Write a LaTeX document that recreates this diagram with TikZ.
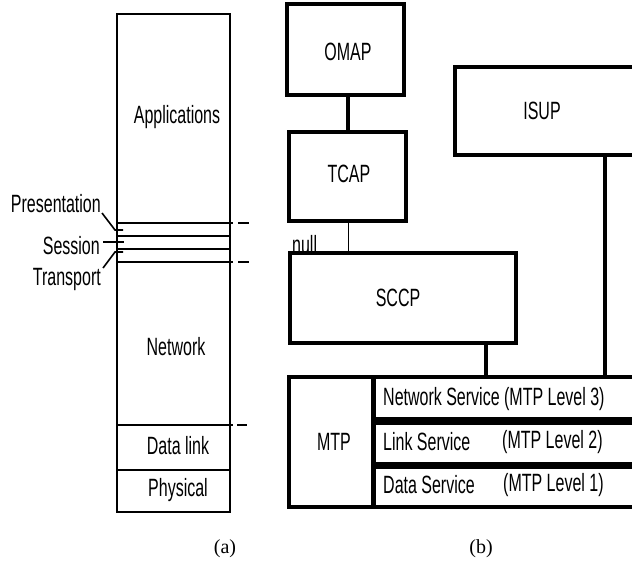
\documentclass[tikz,border=0pt]{standalone}
\usepackage{fontspec}
\setmainfont{Liberation Serif}
\newfontfamily\narsans[FakeStretch=0.64]{Liberation Sans}
\begin{document}
\begin{tikzpicture}[x=1pt,y=-1pt,
  lbl/.style={font=\narsans\fontsize{25}{27}\selectfont, inner sep=0pt},
  thinbox/.style={draw, line width=1.6pt},
  layerline/.style={line width=2.2pt},
  thickbox/.style={draw, line width=4pt},
  thickline/.style={line width=4.5pt},
  captxt/.style={font=\fontsize{20}{22}\selectfont, inner sep=0pt}]
\useasboundingbox (0,0) rectangle (632,570);
\begin{scope}
\clip (0,0) rectangle (632,570);
% ---------- (a) ----------
\draw[thinbox] (117,14) rectangle (230,512);
\draw[layerline] (117,223) -- (233,223);
\draw[layerline] (238,223) -- (249,223);
\draw[layerline] (117,236) -- (230,236);
\draw[layerline] (117,249) -- (230,249);
\draw[layerline] (117,262) -- (233,262);
\draw[layerline] (238,262) -- (249,262);
\draw[layerline] (117,425) -- (233,425);
\draw[layerline] (237,425) -- (247,425);
\draw[layerline] (117,470) -- (230,470);
\node[lbl] (app) at (177,117) {Applications};
\node[lbl] (net) at (176,347) {Network};
\node[lbl] (dl) at (178,446) {Data link};
\node[lbl] (ph) at (178,490) {Physical};
\node[lbl, anchor=east] (pres) at (101,204) {Presentation};
\node[lbl, anchor=east] (sess) at (100,246) {Session};
\node[lbl, anchor=east] (trans) at (101,279) {Transport};
\coordinate (tp) at (123,230);
\coordinate (ts) at (124,242);
\coordinate (tt) at (123,252);
\draw[line width=1.6pt] (102,213) -- (115,230) -- (tp);
\draw[line width=1.6pt] (103,242) -- (ts);
\draw[line width=1.6pt] (103,268) -- (115,252) -- (tt);
% ---------- (b) ----------
\node[thickbox, minimum width=117pt, minimum height=91pt, inner sep=0pt] (omap) at (345.5,49.5) {};
\node[lbl] at (348,52) {OMAP};
\node[thickbox, minimum width=117pt, minimum height=89pt, inner sep=0pt] (tcap) at (347.5,176.5) {};
\node[lbl] at (349,174) {TCAP};
\node[thickbox, minimum width=226pt, minimum height=90pt, inner sep=0pt] (sccp) at (403,298) {};
\node[lbl] at (398,298) {SCCP};
\node[thickbox, minimum width=205pt, minimum height=88pt, inner sep=0pt] (isup) at (557.5,111) {};
\node[lbl] at (542,111) {ISUP};
\draw[thickline] ([xshift=2.5pt]omap.south) -- ([xshift=0.5pt]tcap.north);
\draw[line width=1pt] ([xshift=0.5pt]tcap.south) -- ([xshift=0.5pt]tcap.south |- sccp.north);
\node[lbl, anchor=south west] (null) at (292,254) {null};
% MTP block
\draw[line width=4.5pt] (289,377) rectangle (680,507);
\coordinate (mtptop) at (486,377);
\coordinate (mtptop2) at (605,377);
\draw[thickline] (sccp.south -| mtptop) -- (mtptop);
\draw[thickline] (isup.south -| mtptop2) -- (mtptop2);
\draw[line width=5pt] (373,377) -- (373,507);
\draw[line width=8pt] (373,421) -- (680,421);
\draw[line width=7pt] (373,465) -- (680,465);
\node[lbl] (mtp) at (334,442) {MTP};
\node[lbl, anchor=west] (l3) at (383,399) {Network Service (MTP Level 3)};
\node[lbl, anchor=west] (l2a) at (383,442) {Link Service};
\node[lbl, anchor=west] (l2b) at (502,442) {(MTP Level 2)};
\node[lbl, anchor=west] (l1a) at (383,485) {Data Service};
\node[lbl, anchor=west] (l1b) at (503,485) {(MTP Level 1)};
% captions
\node[captxt] (ca) at (225,549) {(a)};
\node[captxt] (cb) at (481,549) {(b)};
\end{scope}
\end{tikzpicture}
\end{document}
